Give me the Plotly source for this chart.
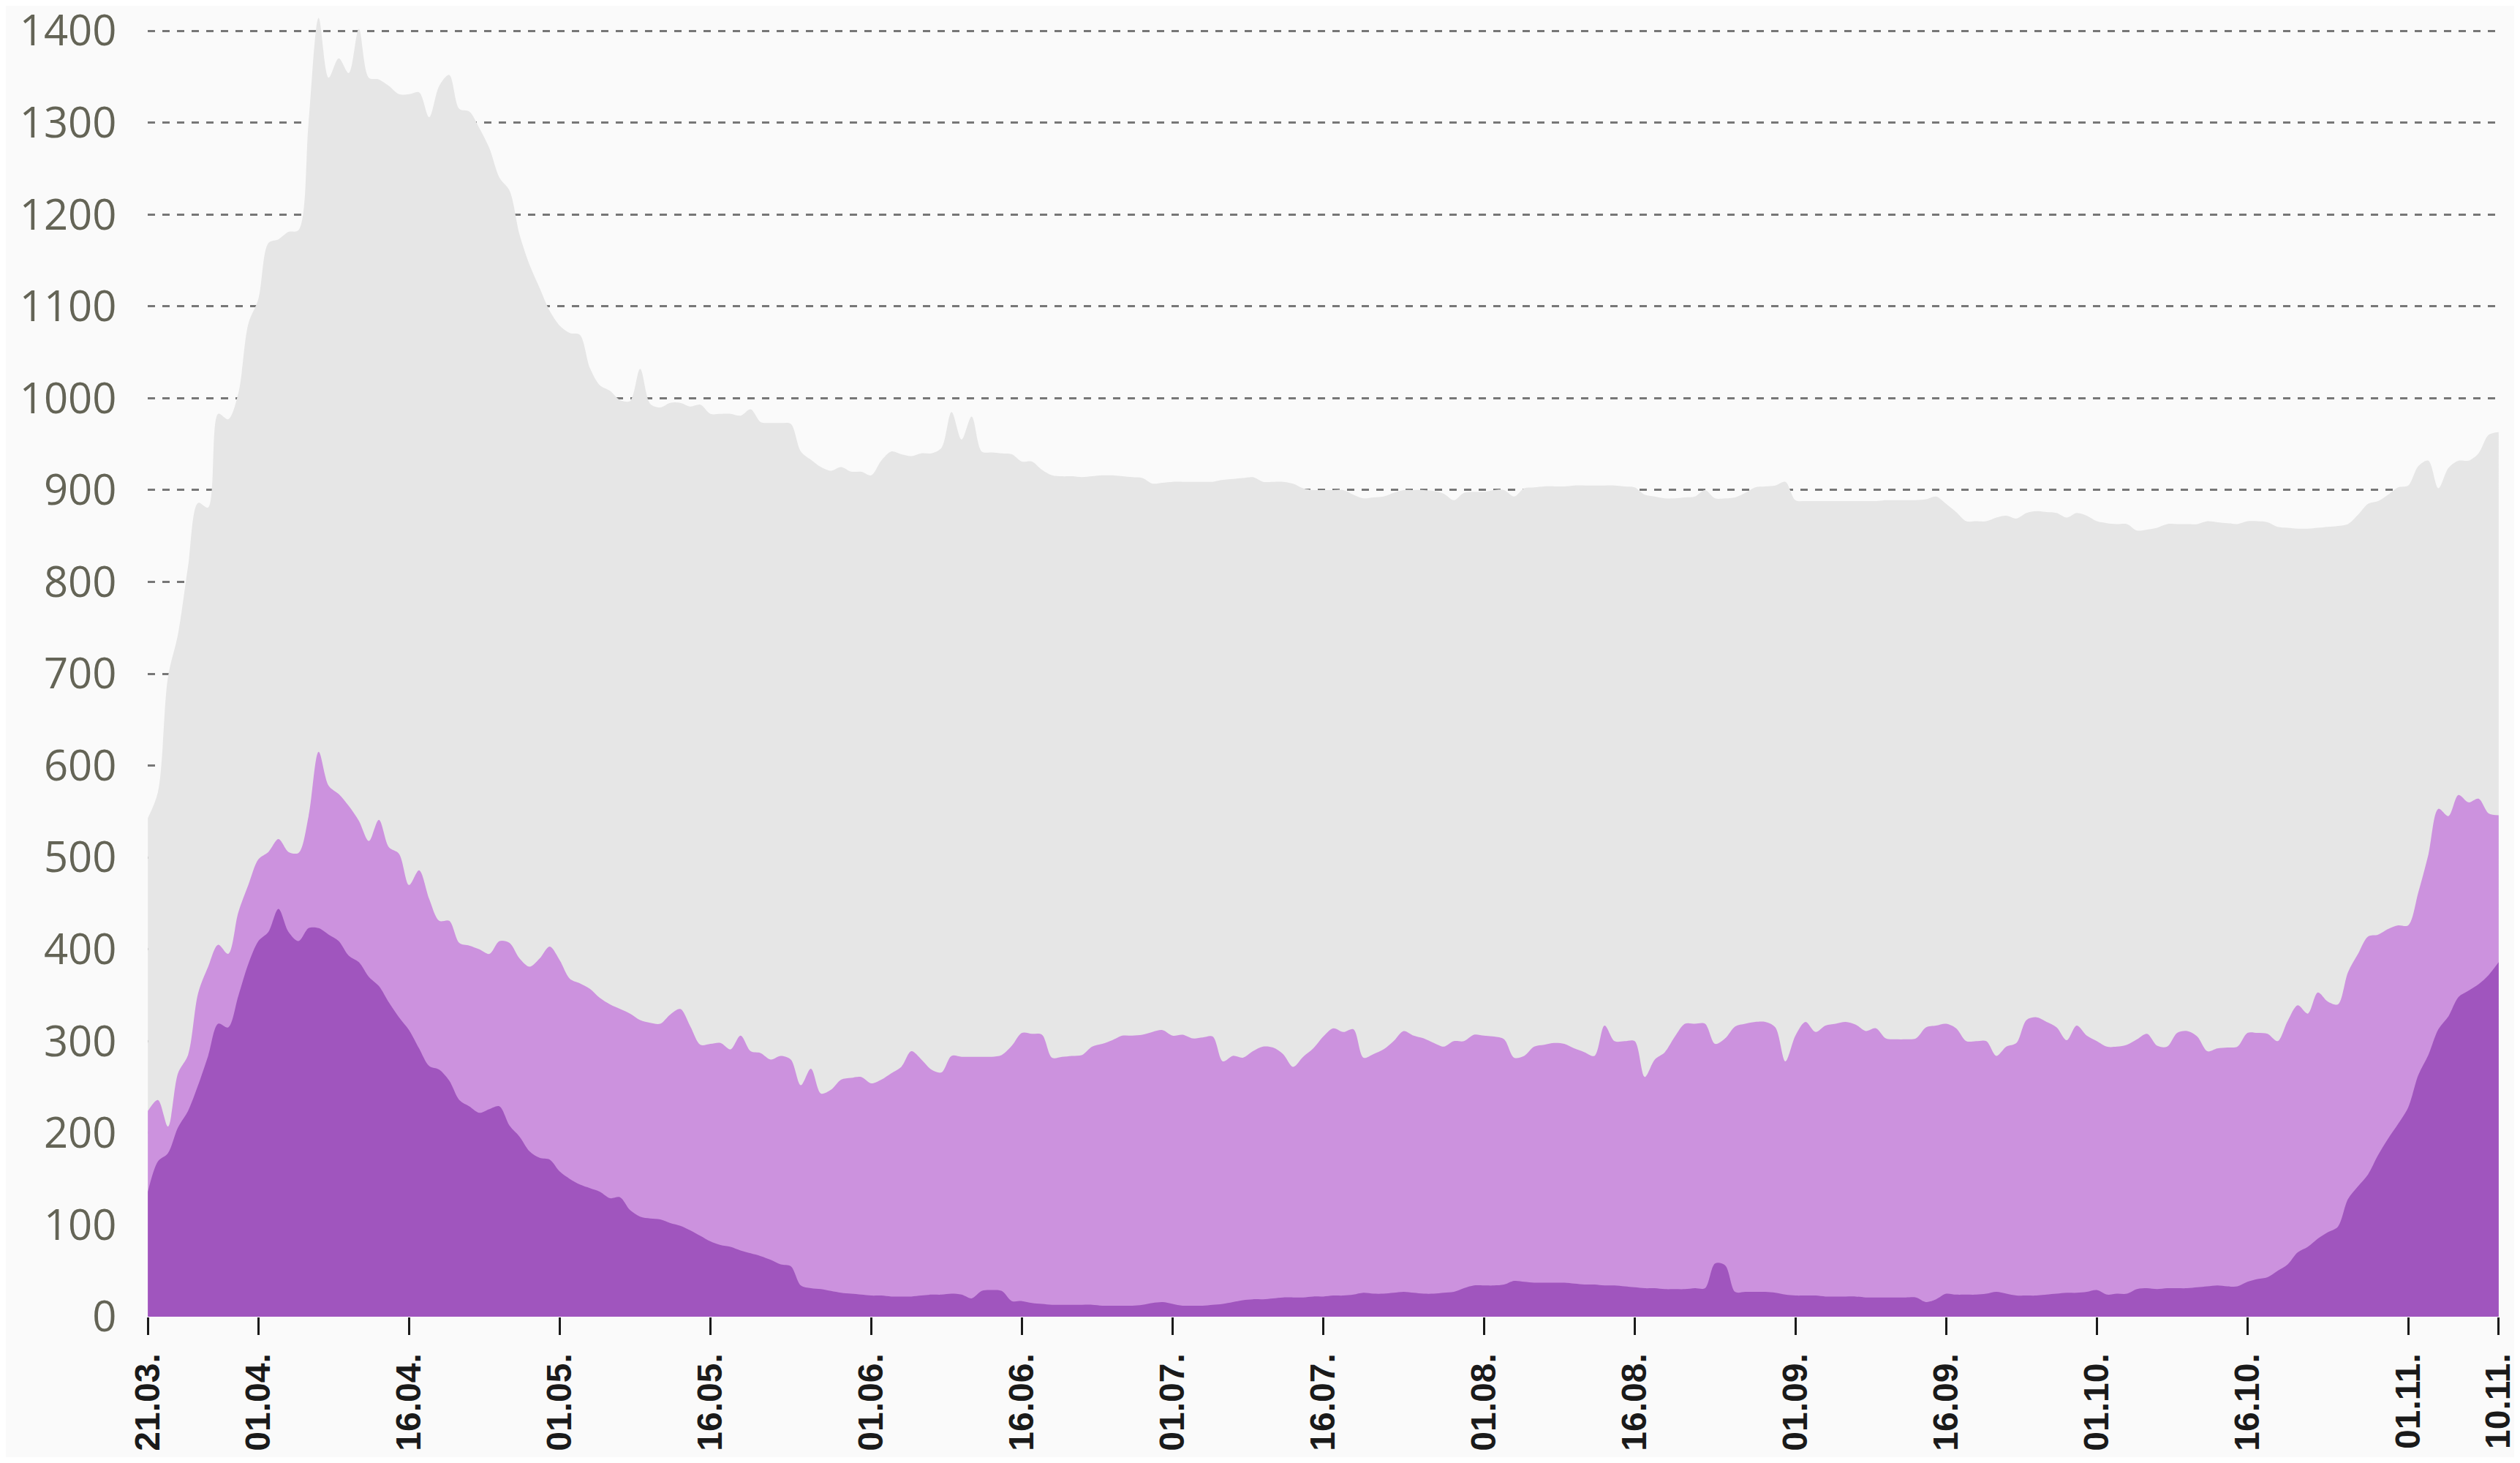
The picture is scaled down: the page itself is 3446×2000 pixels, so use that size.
import pandas as pd
import plotly.graph_objects as go

# Daily dates from 21.03. to 10.11.
dates = pd.date_range("2020-03-21", "2020-11-10", freq="D")

total = [
    543, 571, 696, 743, 817, 886, 881, 983, 977, 1005, 1081, 1108, 1169, 1173, 1181, 1183, 1300, 1414, 1349, 1370,
    1354, 1402, 1349, 1347, 1340, 1331, 1331, 1333, 1306, 1340, 1352, 1315, 1312, 1294, 1272, 1240, 1226, 1178, 1145,
    1120, 1095, 1079, 1071, 1069, 1033, 1014, 1008, 998, 997, 1032, 994, 990, 995, 995, 991, 993, 983, 983, 983,
    981, 988, 974, 973, 973, 972, 942, 933, 925, 921, 925, 920, 920, 916, 932, 942, 939, 937, 940,
    940, 946, 985, 955, 980, 942, 941, 940, 939, 931, 931, 922, 916, 915, 915, 914, 915, 916, 916, 915,
    914, 913, 907, 908, 909, 909, 909, 909, 909, 911, 912, 913, 914, 909, 909, 909, 907, 902, 900,
    900,
    900, 900, 895, 891, 892, 893, 897, 900, 900, 900, 899, 896, 889, 897, 898, 898, 900, 900, 893, 902,
    903, 904, 904, 904, 905, 905, 905, 905, 905, 904, 903, 895, 893, 891, 891, 892, 893, 900, 891,
    891, 892, 897, 903, 904, 905, 909, 889, 888, 888, 888, 888, 888, 888, 888, 888, 889, 889, 889, 889,
    890, 893, 885, 876, 866, 866, 866, 870, 872, 869, 875, 877, 876, 875, 870, 875, 872, 866, 864,
    863, 863, 856, 857, 859, 863, 863, 863, 863, 866, 865, 864, 863, 866, 866, 865, 860, 859, 858, 858,
    859, 860, 861, 863, 873, 885, 888, 895, 903, 905, 926, 932, 902, 924, 932, 932, 940, 960, 963,
]

middle = [
    224, 236, 207, 265, 285, 352, 381, 405, 395, 440, 470, 498, 506, 520, 506, 505, 545, 615, 578, 569,
    556, 540, 518, 541, 511, 504, 470, 486, 455, 431, 431, 407, 404, 400, 395, 409, 407, 390, 381,
    390, 403, 388, 368, 363, 357, 347, 340, 335, 330, 323, 320, 319, 329, 335, 316, 296, 297, 298, 291,
    306, 289, 287, 280, 284, 280, 252, 270, 243, 247, 258, 260, 261, 254, 258, 265, 272, 289, 280,
    269, 266, 284, 283, 283, 283, 283, 285, 295, 309, 308, 307, 282, 283, 284, 285, 294, 297, 301, 306,
    306, 307, 310, 312, 306, 307, 303, 304, 305, 278, 284, 282, 289, 294, 293, 286, 272, 283, 292,
    305,
    314, 310, 313, 282, 286, 291, 300, 311, 306, 303, 298, 294, 300, 300, 307, 306, 305, 302, 282, 284,
    294, 296, 298, 297, 292, 288, 284, 317, 300, 300, 300, 261, 280, 288, 305, 319, 319, 319, 297,
    303, 316, 319, 321, 321, 315, 278, 306, 321, 310, 317, 319, 321, 318, 311, 314, 303, 302, 302, 303,
    315, 317, 319, 314, 300, 300, 300, 284, 294, 298, 323, 326, 321, 315, 301, 317, 306, 300, 294,
    294, 296, 302, 308, 295, 294, 309, 311, 305, 289, 292, 293, 294, 309, 309, 308, 300, 322, 339, 330,
    353, 343, 340, 375, 395, 414, 416, 422, 426, 426, 462, 503, 553, 545, 568, 560, 564, 548, 546,
]

severe = [
    136, 169, 178, 206, 224, 252, 284, 319, 315, 349, 384, 409, 419, 444, 419, 409, 423, 423, 416, 409,
    393, 386, 370, 360, 342, 326, 312, 292, 273, 269, 257, 236, 229, 222, 226, 229, 208, 196, 180,
    173, 171, 158, 150, 144, 140, 136, 129, 130, 116, 109, 107, 106, 102, 99, 94, 88, 82, 78, 76,
    72, 69, 66, 62, 57, 55, 34, 31, 30, 28, 26, 25, 24, 23, 23, 22, 22, 22, 23,
    24, 24, 25, 24, 20, 28, 29, 28, 17, 17, 15, 14, 13, 13, 13, 13, 13, 12, 12, 12,
    12, 13, 15, 16, 14, 12, 12, 12, 13, 14, 16, 18, 19, 19, 20, 21, 21, 21, 22,
    22,
    23, 23, 24, 26, 25, 25, 26, 27, 26, 25, 25, 26, 27, 31, 34, 34, 34, 35, 39, 38,
    37, 37, 37, 37, 36, 35, 35, 34, 34, 33, 32, 31, 31, 30, 30, 30, 31, 31, 58,
    56, 27, 27, 27, 27, 26, 24, 23, 23, 23, 22, 22, 22, 22, 21, 21, 21, 21, 21, 21,
    16, 19, 25, 24, 24, 24, 25, 27, 25, 23, 23, 23, 24, 25, 26, 26, 27, 29, 24,
    25, 25, 30, 31, 30, 31, 31, 31, 32, 33, 34, 33, 33, 38, 41, 43, 50, 57, 70, 76,
    85, 92, 98, 128, 142, 155, 176, 194, 210, 228, 263, 285, 313, 327, 348, 355, 362, 372, 386,
]

tick_dates = ["2020-03-21", "2020-04-01", "2020-04-16", "2020-05-01", "2020-05-16", "2020-06-01",
              "2020-06-16", "2020-07-01", "2020-07-16", "2020-08-01", "2020-08-16", "2020-09-01",
              "2020-09-16", "2020-10-01", "2020-10-16", "2020-11-01", "2020-11-10"]
tick_labels = ["21.03.", "01.04.", "16.04.", "01.05.", "16.05.", "01.06.", "16.06.", "01.07.",
               "16.07.", "01.08.", "16.08.", "01.09.", "16.09.", "01.10.", "16.10.", "01.11.", "10.11."]
y_ticks = list(range(0, 1401, 100))

fig = go.Figure()
for vals, col in [(total, "#e6e6e6"), (middle, "#cc92de"), (severe, "#a055be")]:
    fig.add_trace(go.Scatter(
        x=dates, y=vals, mode="lines", fill="tozeroy",
        line=dict(width=0, shape="spline", smoothing=0.9, color=col),
        fillcolor=col, hoverinfo="skip", showlegend=False,
    ))

# the page body adds an 8px margin, so the figure is sized and offset to fit inside it
fig.update_layout(
    width=3438, height=1984,
    margin=dict(l=194, r=29, t=9, b=192, autoexpand=False),
    paper_bgcolor="#fafafa", plot_bgcolor="#fafafa",
    showlegend=False,
    xaxis=dict(
        type="date",
        range=["2020-03-20 23:40", "2020-11-10 00:20"],
        tickvals=tick_dates, ticktext=tick_labels,
        tickangle=-90,
        ticks="outside", ticklen=24, tickwidth=3, tickcolor="#1a1a1a",
        ticklabelstandoff=6,
        tickfont=dict(family="Liberation Sans, Arial, sans-serif", size=48, color="#1a1a1a", weight="bold"),
        showgrid=False, zeroline=False, showline=False, automargin=False,
        ticklabeloverflow="allow",
    ),
    yaxis=dict(
        range=[0, 1420],
        tickvals=y_ticks,
        ticks="outside", ticklen=30, tickcolor="rgba(0,0,0,0)",
        tickfont=dict(family="Open Sans, Noto Sans, sans-serif", size=58, color="#646456"),
        showgrid=True, gridcolor="#777777", gridwidth=3, griddash="10px,10px",
        zeroline=False, showline=False, automargin=False,
        ticklabeloverflow="allow",
    ),
)

fig.write_html("out.html")
